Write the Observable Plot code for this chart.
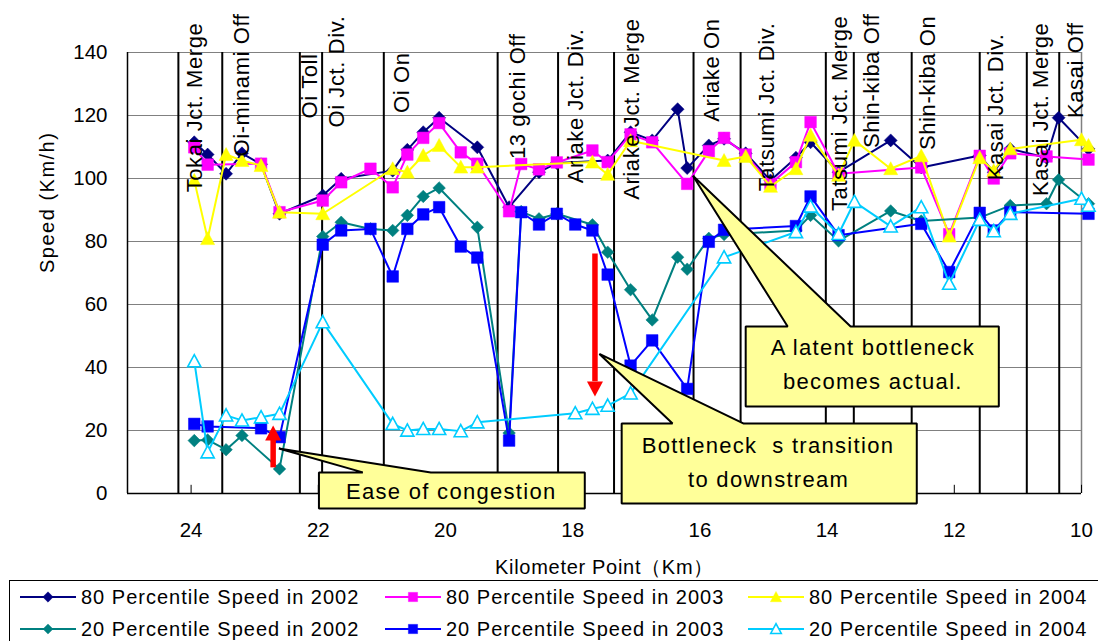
<!DOCTYPE html>
<html><head><meta charset="utf-8">
<script src="https://cdn.jsdelivr.net/npm/d3@7"></script>
<script src="https://cdn.jsdelivr.net/npm/@observablehq/plot@0.6"></script>
<style>
html,body{margin:0;padding:0;background:#fff;overflow:hidden;width:1098px;height:641px;}
#chart{position:absolute;left:0;top:0;}
#legend{position:absolute;left:9px;top:580px;width:1110px;height:70px;border:1px solid #000;box-sizing:border-box;font-family:Arial,"Liberation Sans",sans-serif;font-size:20px;letter-spacing:1px;color:#000;}
.item{position:absolute;display:flex;align-items:center;height:30px;white-space:nowrap;}
.item svg{margin-right:5px;flex:none;}
</style></head><body>
<div id="chart"></div><div id="legend"></div>
<script>
// ---------- data ----------
const xTicks = [24, 22, 20, 18, 16, 14, 12, 10];
const yTicks = [0, 20, 40, 60, 80, 100, 120, 140];

const seriesNames = [
  "80 Percentile Speed in 2002", "80 Percentile Speed in 2003", "80 Percentile Speed in 2004",
  "20 Percentile Speed in 2002", "20 Percentile Speed in 2003", "20 Percentile Speed in 2004"
];

// [kilometer point, speed]
const p80_2002 = [[23.95,111.5],[23.74,107.6],[23.45,101.5],[23.20,108.0],[22.90,104.5],[22.61,88.8],[21.93,94.6],[21.64,99.9],[20.83,102.5],[20.60,109.1],[20.35,114.7],[20.10,119.3],[19.50,109.9],[19.00,90.9],[18.53,102.0],[18.25,104.9],[17.45,105.7],[17.09,114.7],[16.75,112.1],[16.35,122.0],[16.20,103.3],[15.86,110.5],[15.62,112.6],[15.28,108.0],[14.89,99.4],[14.49,106.6],[14.26,111.5],[13.82,102.0],[13.00,112.1],[12.52,103.5],[11.60,107.3],[11.38,102.0],[11.12,109.4],[10.55,106.6],[10.36,119.3],[9.89,109.4]];
const p80_2003 = [[23.95,109.9],[23.74,104.4],[22.90,104.7],[22.61,89.3],[21.93,93.0],[21.64,98.8],[21.18,103.1],[20.83,97.2],[20.60,107.6],[20.35,112.9],[20.10,117.6],[19.76,108.3],[19.50,104.7],[19.00,89.6],[18.81,104.6],[18.53,102.9],[18.25,105.1],[17.69,108.9],[17.45,105.2],[17.09,114.0],[16.75,111.5],[16.20,98.3],[15.86,108.7],[15.62,112.9],[15.28,107.6],[14.89,98.3],[14.49,105.2],[14.26,117.9],[13.82,101.5],[12.52,103.5],[12.08,82.3],[11.60,107.2],[11.38,100.0],[11.12,108.0],[10.55,107.0],[9.89,106.0]];
const p80_2004 = [[23.95,99.4],[23.74,80.9],[23.45,107.6],[23.20,105.7],[22.90,104.1],[22.61,89.3],[21.93,88.8],[20.83,103.1],[20.60,102.0],[20.35,107.3],[20.10,110.5],[19.76,103.6],[19.50,103.6],[17.69,105.2],[17.45,101.3],[17.09,112.0],[15.62,105.7],[15.28,107.0],[14.89,97.5],[14.49,103.1],[14.26,113.7],[13.82,101.0],[13.57,112.1],[13.00,103.1],[12.52,107.2],[12.08,81.7],[11.60,106.6],[11.38,102.5],[11.12,109.4],[10.00,112.3],[9.89,110.5]];
const p20_2002 = [[23.95,16.8],[23.74,17.0],[23.45,13.9],[23.20,18.4],[22.61,7.8],[21.93,81.6],[21.64,86.1],[21.18,84.0],[20.83,83.5],[20.60,88.3],[20.35,94.3],[20.10,97.0],[19.50,84.5],[19.00,19.2],[18.81,89.5],[18.53,87.2],[18.25,88.8],[17.69,85.3],[17.45,76.6],[17.09,64.7],[16.75,55.1],[16.35,75.0],[16.20,71.2],[15.86,81.0],[15.62,82.2],[14.49,83.5],[14.26,88.3],[13.82,80.2],[13.00,89.7],[12.52,86.5],[11.60,87.6],[11.12,91.4],[10.55,92.0],[10.36,99.6],[9.89,92.0]];
const p20_2003 = [[23.95,22.1],[23.74,21.3],[22.90,20.7],[22.61,17.9],[21.93,79.0],[21.64,83.5],[21.18,84.0],[20.83,68.9],[20.60,84.0],[20.35,88.6],[20.10,90.9],[19.76,78.4],[19.50,74.9],[19.00,16.8],[18.81,89.3],[18.53,85.4],[18.25,88.8],[17.96,85.4],[17.69,83.5],[17.45,69.5],[17.09,40.6],[16.75,48.6],[16.20,33.2],[15.86,79.9],[15.62,83.7],[14.49,84.9],[14.26,94.3],[13.82,82.0],[12.52,85.6],[12.08,70.3],[11.60,89.1],[11.38,83.5],[11.12,89.3],[9.89,88.8]];
const p20_2004 = [[23.95,42.0],[23.74,13.1],[23.45,24.8],[23.20,23.2],[22.90,24.2],[22.61,25.3],[21.93,54.4],[20.83,22.1],[20.60,20.0],[20.35,20.5],[20.10,20.5],[19.76,19.8],[19.50,22.6],[17.96,25.5],[17.69,26.9],[17.45,27.9],[17.09,31.8],[15.62,75.0],[14.49,83.0],[14.26,91.1],[13.82,82.4],[13.57,92.6],[13.00,84.8],[12.52,90.9],[12.08,66.6],[11.60,86.9],[11.38,83.3],[11.12,88.8],[10.00,93.6],[9.89,91.4]];

const landmarkNames = ["Tokai Jct. Merge","Oi-minami Off","Oi Toll","Oi Jct. Div.","Oi On","13 gochi Off","Ariake Jct. Div.","Ariake Jct. Merge","Ariake On","Tatsumi Jct. Div.","Tatsumi Jct. Merge","Shin-kiba Off","Shin-kiba On","Kasai Jct. Div.","Kasai Jct. Merge","Kasai Off"];
const landmarkKm = [24.20, 23.51, 22.29, 21.94, 20.97, 19.18, 18.23, 17.35, 16.10, 15.36, 14.02, 13.58, 12.67, 11.60, 10.86, 10.35];
const labelKm = [23.83, 23.09, 22.02, 21.60, 20.57, 18.75, 17.84, 16.96, 15.70, 14.84, 13.69, 13.19, 12.31, 11.23, 10.52, 9.97];
const labelTop = [149.5, 152.4, 139.7, 151.7, 140.0, 146.0, 147.6, 150.8, 150.8, 149.5, 151.7, 152.4, 151.7, 146.0, 149.5, 149.5];

// callouts (km, speed)
const calloutEase = [[21.99,6.7],[21.30,6.7],[22.62,14.3],[20.23,6.7],[17.81,6.7],[17.81,-4.8],[21.99,-4.8]];
const calloutShift = [[17.23,22.2],[16.43,22.2],[17.58,44.3],[15.31,22.2],[12.59,22.2],[12.59,-3.2],[17.23,-3.2]];
const calloutLatent = [[15.28,53.0],[14.62,53.0],[16.11,100.9],[13.63,53.0],[11.30,53.0],[11.30,27.6],[15.28,27.6]];
const calloutText = ["Ease of congestion", "Bottleneck\u00a0 s transition", "to downstream", "A latent bottleneck", "becomes actual."];
const calloutKm = [19.91, 14.93, 14.92, 13.28, 13.28];
const calloutSpeed = [0.5, 15.2, 4.4, 46.3, 35.4];

// red arrows
const arrowKm = [22.71, 17.65];
const arrowTail = [8.3, 76.2];
const arrowNeck = [17.0, 35.6];
const arrowHead = [18.4, 34.0];
const arrowDir = ["up", "down"];

// ---------- styling ----------
const seriesColors = ["#000080", "#ff00ff", "#ffff00", "#008080", "#0000ff", "#00ccff"];
function diamond(s){return {draw(c){c.moveTo(0,-s);c.lineTo(s,0);c.lineTo(0,s);c.lineTo(-s,0);c.closePath();}};}
function square(s){return {draw(c){c.moveTo(-s,-s);c.lineTo(s,-s);c.lineTo(s,s);c.lineTo(-s,s);c.closePath();}};}
function triangle(s){return {draw(c){c.moveTo(0,-s);c.lineTo(s,s*0.85);c.lineTo(-s,s*0.85);c.closePath();}};}
const seriesSymbols = [diamond(6.5), square(5.8), triangle(7), diamond(6.3), square(5.8), triangle(6.6)];
const seriesFill = ["#000080", "#ff00ff", "#ffff00", "#008080", "#0000ff", "#ffffff"];
const arrowUp = {draw(c){c.moveTo(0,-10);c.lineTo(8,5);c.lineTo(-8,5);c.closePath();}};
const arrowDown = {draw(c){c.moveTo(0,10);c.lineTo(8,-5);c.lineTo(-8,-5);c.closePath();}};

const seriesData = [p80_2002, p80_2003, p80_2004, p20_2002, p20_2003, p20_2004];
const toRows = arr => arr.map(([km, speed]) => ({km, speed}));

const landmarks = landmarkNames.map((name, i) => ({name, km: landmarkKm[i], labelKm: labelKm[i], labelTop: labelTop[i]}));
const callouts = [calloutEase, calloutShift, calloutLatent].flatMap((poly, id) => poly.map(([km, speed]) => ({id, km, speed})));
const calloutLabels = calloutText.map((t, i) => ({t, km: calloutKm[i], speed: calloutSpeed[i]}));
const arrows = arrowKm.map((km, i) => ({km, tail: arrowTail[i], neck: arrowNeck[i], head: arrowHead[i], dir: arrowDir[i]}));

const seriesMarks = seriesData.flatMap((data, i) => [
  Plot.line(toRows(data), {x: "km", y: "speed", stroke: seriesColors[i], strokeWidth: 2}),
  Plot.dot(toRows(data), {x: "km", y: "speed", symbol: seriesSymbols[i], r: 5, fill: seriesFill[i], stroke: seriesColors[i], strokeWidth: i === 5 ? 1.6 : 0.5})
]);

const chart = Plot.plot({
  width: 1098, height: 580,
  marginLeft: 127, marginRight: 17, marginTop: 52, marginBottom: 87,
  x: {domain: [25, 10], ticks: xTicks, tickSize: 0, tickPadding: 29, tickFormat: d => String(d), label: null},
  y: {domain: [0, 140], ticks: yTicks, tickSize: 0, tickPadding: 20, label: null},
  style: {fontFamily: "Arial, 'Liberation Sans', sans-serif", fontSize: "20.5px", color: "#000", background: "#fff", overflow: "visible"},
  marks: [
    Plot.ruleY(yTicks, {stroke: "#808080", strokeWidth: 1}),
    Plot.ruleX([10], {stroke: "#808080", strokeWidth: 1.5}),
    Plot.ruleX(landmarks, {x: "km", y1: 0, y2: 140, stroke: "#000", strokeWidth: 2}),
    Plot.ruleX([25], {stroke: "#000", strokeWidth: 1.5}),
    Plot.ruleY([0], {stroke: "#000", strokeWidth: 1.5}),
    Plot.ruleX(xTicks, {y1: 0, y2: 2.6, stroke: "#000", strokeWidth: 1}),
    ...seriesMarks,
    Plot.line(callouts, {x: "km", y: "speed", z: "id", fill: "#ffff99", stroke: "#000", strokeWidth: 2, curve: "linear-closed", strokeLinejoin: "miter"}),
    Plot.text(calloutLabels, {x: "km", y: "speed", text: "t", fontSize: 22, lineAnchor: "middle", fill: "#000"}),
    Plot.link(arrows, {x1: "km", x2: "km", y1: "tail", y2: "neck", stroke: "#ff0000", strokeWidth: 5.5, strokeLinecap: "butt"}),
    Plot.dot(arrows.filter(d => d.dir === "up"), {x: "km", y: "head", symbol: arrowUp, fill: "#ff0000", stroke: "none"}),
    Plot.dot(arrows.filter(d => d.dir === "down"), {x: "km", y: "head", symbol: arrowDown, fill: "#ff0000", stroke: "none"}),
    Plot.text(landmarks, {x: "labelKm", y: "labelTop", text: "name", rotate: -90, textAnchor: "end", lineAnchor: "bottom", fontSize: 22, fill: "#000"}),
    Plot.text(["Speed (Km/h)"], {frameAnchor: "left", dx: -80, rotate: -90, fontSize: 20, lineAnchor: "middle", fill: "#000"}),
    Plot.text(["Kilometer Point\uFF08Km\uFF09"], {frameAnchor: "bottom", dy: 74, fontSize: 20, lineAnchor: "middle", fill: "#000"})
  ]
});
document.getElementById("chart").appendChild(chart);

// letter spacing to match the original's wide text
const spacing = [1.3, 0.6, 1.5, 0.7];
chart.querySelectorAll('g[aria-label="text"]').forEach((g, i) => {
  if (spacing[i] != null) g.setAttribute("letter-spacing", spacing[i] + "px");
});

// ---------- legend ----------
const legend = document.getElementById("legend");
const colX = [10, 375, 738];
const rowY = [1, 33];
seriesNames.forEach((name, i) => {
  const item = document.createElement("div");
  item.className = "item";
  item.style.left = colX[i % 3] + "px";
  item.style.top = rowY[Math.floor(i / 3)] + "px";
  const p = d3.path(); seriesSymbols[i].draw(p);
  item.innerHTML = `<svg width="56" height="20" viewBox="0 0 56 20"><line x1="0" x2="56" y1="10" y2="10" stroke="${seriesColors[i]}" stroke-width="2"/><path d="${p.toString()}" transform="translate(28,10) scale(0.8)" fill="${seriesFill[i]}" stroke="${seriesColors[i]}" stroke-width="${i === 5 ? 2 : 0.5}"/></svg><span>${name}</span>`;
  legend.appendChild(item);
});
</script></body></html>
